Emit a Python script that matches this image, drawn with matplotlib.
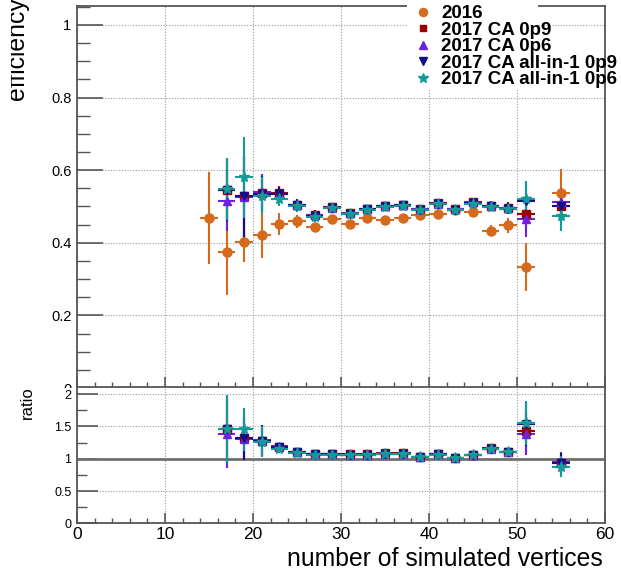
import matplotlib
matplotlib.use("Agg")
import matplotlib.pyplot as plt
from matplotlib.lines import Line2D
from matplotlib.patches import Rectangle
from matplotlib.ticker import MultipleLocator
from matplotlib.transforms import Bbox

plt.rcParams['font.family'] = ['Liberation Sans', 'DejaVu Sans']

# ---------------- data ----------------
x2016 = [15, 17, 19, 21, 23, 25, 27, 29, 31, 33, 35, 37, 39, 41, 43, 45, 47, 49, 51, 55]
eff2016 = [0.468, 0.375, 0.402, 0.420, 0.451, 0.459, 0.443, 0.465, 0.452, 0.469,
           0.463, 0.468, 0.477, 0.479, 0.489, 0.486, 0.433, 0.448, 0.334, 0.537]
err2016 = [0.127, 0.118, 0.055, 0.062, 0.030, 0.018, 0.012, 0.012, 0.011, 0.011,
           0.011, 0.011, 0.011, 0.011, 0.012, 0.012, 0.015, 0.021, 0.066, 0.066]

x2017 = [17, 19, 21, 23, 25, 27, 29, 31, 33, 35, 37, 39, 41, 43, 45, 47, 49, 51, 55]
eff_ca09 = [0.546, 0.528, 0.537, 0.537, 0.505, 0.477, 0.498, 0.482, 0.494, 0.502,
            0.505, 0.493, 0.509, 0.493, 0.511, 0.502, 0.496, 0.480, 0.500]
eff_ca06 = [0.516, 0.525, 0.540, 0.535, 0.503, 0.476, 0.497, 0.481, 0.493, 0.501,
            0.504, 0.492, 0.508, 0.492, 0.512, 0.501, 0.495, 0.465, 0.511]
eff_all09 = [0.546, 0.528, 0.535, 0.533, 0.503, 0.474, 0.496, 0.480, 0.492, 0.500,
             0.503, 0.491, 0.507, 0.491, 0.509, 0.500, 0.494, 0.514, 0.500]
eff_all06 = [0.548, 0.580, 0.530, 0.520, 0.500, 0.470, 0.495, 0.479, 0.491, 0.499,
             0.502, 0.490, 0.506, 0.490, 0.508, 0.499, 0.493, 0.521, 0.473]
err2017 = [0.085, 0.111, 0.050, 0.020, 0.015, 0.012, 0.010, 0.010, 0.010, 0.010,
           0.010, 0.010, 0.010, 0.010, 0.010, 0.012, 0.015, 0.050, 0.040]

ratio_ca09 = [1.455, 1.316, 1.279, 1.186, 1.108, 1.073, 1.073, 1.070, 1.067, 1.083,
              1.083, 1.031, 1.073, 1.016, 1.057, 1.160, 1.108, 1.434, 0.929]
ratio_ca06 = [1.378, 1.310, 1.285, 1.190, 1.105, 1.070, 1.070, 1.065, 1.062, 1.080,
              1.080, 1.030, 1.070, 1.013, 1.060, 1.157, 1.105, 1.390, 0.950]
ratio_all09 = [1.455, 1.316, 1.275, 1.180, 1.100, 1.068, 1.068, 1.063, 1.060, 1.078,
               1.078, 1.027, 1.067, 1.010, 1.052, 1.155, 1.100, 1.540, 0.930]
ratio_all06 = [1.460, 1.455, 1.265, 1.155, 1.090, 1.060, 1.065, 1.060, 1.058, 1.075,
               1.075, 1.025, 1.063, 1.008, 1.050, 1.152, 1.100, 1.557, 0.876]
ratio_err = [0.52, 0.33, 0.24, 0.06, 0.04, 0.03, 0.03, 0.03, 0.03, 0.03,
             0.03, 0.03, 0.03, 0.03, 0.03, 0.04, 0.05, 0.34, 0.16]

labels = ["2016", "2017 CA 0p9", "2017 CA 0p6", "2017 CA all-in-1 0p9", "2017 CA all-in-1 0p6"]
colors = ["#d5691c", "#990000", "#7020e0", "#10108f", "#139a9a"]
markers = ["o", "s", "^", "v", "*"]
msizes = [6.5, 5.5, 6.0, 6.0, 8.0]
bin_half = 1.0

# ---------------- figure ----------------
W, H = 621, 571
fig = plt.figure(figsize=(W / 100, H / 100), dpi=100)

def fx(px):
    return px / W

def fy(py):
    return 1 - py / H

left, right = 77, 605
ax = fig.add_axes([fx(left), fy(388), fx(right - left), (388 - 6) / H], zorder=0)
axr = fig.add_axes([fx(left), fy(523.3), fx(right - left), (523.3 - 387) / H], zorder=1)

spine_col = "#555555"
grid_kw = dict(color="#9a9a9a", linestyle=(0, (1, 1.5)), linewidth=0.8)

# top panel
ax.errorbar(x2016, eff2016, yerr=err2016, xerr=bin_half, fmt=markers[0], color=colors[0],
            ms=msizes[0], elinewidth=1.5, capsize=0, zorder=3)
for ys, c, m, s in zip([eff_ca09, eff_ca06, eff_all09, eff_all06], colors[1:], markers[1:], msizes[1:]):
    ax.errorbar(x2017, ys, yerr=err2017, xerr=bin_half, fmt=m, color=c, ms=s,
                elinewidth=1.5, capsize=0, zorder=3)

ax.set_xlim(0, 60)
ax.set_ylim(0, 1.052)
ax.xaxis.set_major_locator(MultipleLocator(10))
ax.xaxis.set_minor_locator(MultipleLocator(2))
ax.set_yticks([0, 0.2, 0.4, 0.6, 0.8, 1.0])
ax.set_yticklabels(["0", "0.2", "0.4", "0.6", "0.8", "1"])
ax.yaxis.set_minor_locator(MultipleLocator(0.05))
ax.tick_params(axis="x", which="major", direction="in", length=8, width=1.2, color=spine_col,
               labelbottom=False)
ax.tick_params(axis="x", which="minor", direction="in", length=4, width=1.0, color=spine_col)
ax.tick_params(axis="y", which="major", direction="in", length=19, width=1.2, color=spine_col,
               labelsize=10.5, pad=4)
ax.tick_params(axis="y", which="minor", direction="in", length=9, width=1.0, color=spine_col)
ax.grid(True, which="major", **grid_kw)
for sp in ax.spines.values():
    sp.set_color(spine_col)
    sp.set_linewidth(1.3)

# ratio panel
axr.axhline(1.0, color="#707070", linewidth=2.0, zorder=2)
for ys, c, m, s in zip([ratio_ca09, ratio_ca06, ratio_all09, ratio_all06], colors[1:], markers[1:], msizes[1:]):
    axr.errorbar(x2017, ys, yerr=ratio_err, xerr=bin_half, fmt=m, color=c, ms=s,
                 elinewidth=1.5, capsize=0, zorder=3)
axr.set_xlim(0, 60)
axr.set_ylim(0, 2.11)
axr.xaxis.set_major_locator(MultipleLocator(10))
axr.xaxis.set_minor_locator(MultipleLocator(2))
axr.set_yticks([0, 0.5, 1.0, 1.5, 2.0])
axr.set_yticklabels(["0", "0.5", "1", "1.5", "2"])
axr.yaxis.set_minor_locator(MultipleLocator(0.25))
axr.tick_params(axis="x", which="major", direction="in", length=7, width=1.2, color=spine_col,
                labelsize=12.5, pad=3)
axr.tick_params(axis="x", which="minor", direction="in", length=3.5, width=1.0, color=spine_col)
axr.tick_params(axis="y", which="major", direction="in", length=15, width=1.2, color=spine_col,
                labelsize=9, pad=4)
axr.tick_params(axis="y", which="minor", direction="in", length=7.5, width=1.0, color=spine_col)
axr.grid(True, which="major", **grid_kw)
for sp in axr.spines.values():
    sp.set_color(spine_col)
    sp.set_linewidth(1.3)

# cover lower part of top panel's "0" label (pad overlap)
fig.patches.append(Rectangle((0, 0), 1, fy(388), transform=fig.transFigure,
                             facecolor="white", edgecolor="none", zorder=0.5))
# legend background box
fig.patches.append(Rectangle((fx(407), fy(90)), fx(538 - 407), 90 / H, transform=fig.transFigure,
                             facecolor="white", edgecolor="none", zorder=0.6))

# axis titles
fig.text(fx(603), fy(547), "number of simulated vertices", ha="right", va="top", fontsize=17.8)
eff_txt = fig.text(fx(29), fy(100), "efficiency", rotation=90, ha="right", va="bottom",
                   fontsize=17.8)
# the reference shows this title clipped on its left side (cut by the canvas edge)
eff_txt.set_clip_box(Bbox.from_extents(11, 0, 60, H))
eff_txt.set_clip_on(True)
fig.text(fx(27), fy(419), "ratio", rotation=90, ha="center", va="bottom", fontsize=12)

# legend
handles = [Line2D([], [], linestyle="none", marker=m, color=c, ms=s * 0.9)
           for m, c, s in zip(markers, colors, msizes)]
leg = fig.legend(handles, labels, loc="upper left", bbox_to_anchor=(fx(414), fy(5)),
                 bbox_transform=fig.transFigure, frameon=False, handlelength=1.0,
                 handletextpad=0.45, labelspacing=-0.03, borderpad=0, borderaxespad=0,
                 prop={"weight": "bold", "size": 13.5})
leg.set_zorder(5)

fig.savefig("out.png", dpi=100)
